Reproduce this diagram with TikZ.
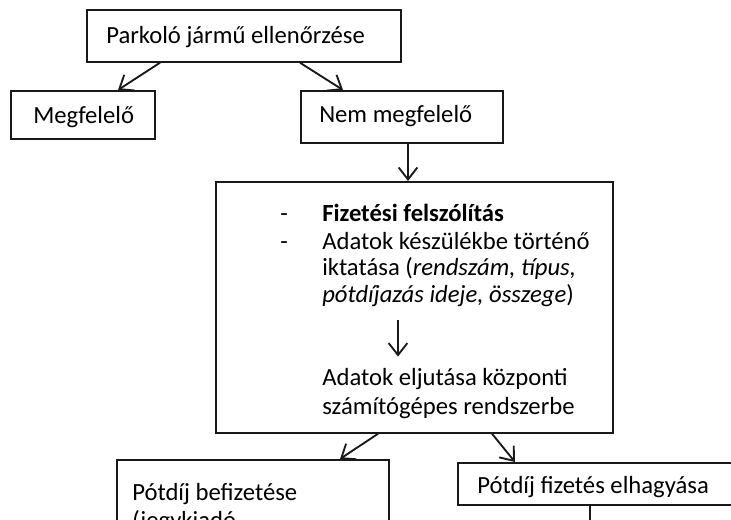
\documentclass[tikz,border=0pt]{standalone}
\usepackage{fontspec}
\setmainfont{Carlito}
\usetikzlibrary{arrows.meta,calc}
\begin{document}
\begin{tikzpicture}[x=0.75pt,y=-0.75pt,
  boxnode/.style={draw=black!90, line width=1.3pt, rectangle, inner sep=0pt, anchor=north west},
  txt/.style={inner sep=0pt, anchor=base west, font=\fontsize{18.5pt}{20pt}\selectfont, text=black},
  boldtxt/.style={txt, font=\fontsize{18.5pt}{20pt}\selectfont\bfseries},
  conn/.style={draw=black!90, line width=1.4pt, -{Straight Barb[length=9pt,width=14pt]}},
  plainline/.style={draw=black!90, line width=1.4pt},
]
\useasboundingbox (0,0) rectangle (731,520);
\clip (0,0) rectangle (731,520);

% top row
\node[boxnode, minimum width=235.5pt, minimum height=39pt] (top) at (86,9) {};
\node[txt] (toptxt) at (106,44) {Parkoló jármű ellenőrzése};
\node[boxnode, minimum width=108pt, minimum height=36pt] (meg) at (10,90) {};
\node[txt] (megtxt) at (33,124) {Megfelelő};
\node[boxnode, minimum width=151.5pt, minimum height=39pt] (nem) at (300,90) {};
\node[txt] (nemtxt) at (319,123) {Nem megfelelő};

% big box
\node[boxnode, minimum width=297.75pt, minimum height=188.25pt] (big) at (215,181) {};
\node[txt] (d1) at (280,222) {-};
\node[txt] (d2) at (280,249) {-};
\node[boldtxt] (l1) at (322,222) {Fizetési felszólítás};
\node[txt] (l2) at (322,249) {Adatok készülékbe történő};
\node[txt] (l3) at (322,275) {iktatása (\textit{rendszám, típus,}};
\node[txt] (l4) at (322,302) {\textit{pótdíjazás ideje, összege})};
\node[txt] (l5) at (322,385) {Adatok eljutása központi};
\node[txt] (l6) at (322,414) {számítógépes rendszerbe};

% bottom row
\node[boxnode, minimum width=204pt, minimum height=100pt] (pb) at (116,459) {};
\node[txt] (pbtxt1) at (132,500) {Pótdíj befizetése};
\node[txt] (pbtxt2) at (132,528) {(jegykiadó};
\node[boxnode, minimum width=250pt, minimum height=31.5pt] (pf) at (457,462) {};
\node[txt] (pftxt) at (477,493) {Pótdíj fizetés elhagyása};
\coordinate (pfdown) at ($(pf.south west)+(133,40)$);

% connectors
\draw[conn] ($(top.south west)+(74,0)$) -- ($(meg.north west)+(108,0)$);
\draw[conn] ($(top.south west)+(214,0)$) -- ($(nem.north west)+(43,0)$);
\draw[conn] ($(nem.south west)+(108,0)$) -- ($(big.north west)+(193,0)$);
\draw[conn] ($(l4.south west)+(76,14)$) -- ($(l5.north west)+(76,-11)$);
\draw[conn] ($(big.south west)+(163,0)$) -- ($(pb.north west)+(224,0)$);
\draw[conn] ($(big.south west)+(277,0)$) -- ($(pf.north west)+(58,0)$);
\draw[plainline] ($(pf.south west)+(133,0)$) -- (pfdown);
\end{tikzpicture}
\end{document}
